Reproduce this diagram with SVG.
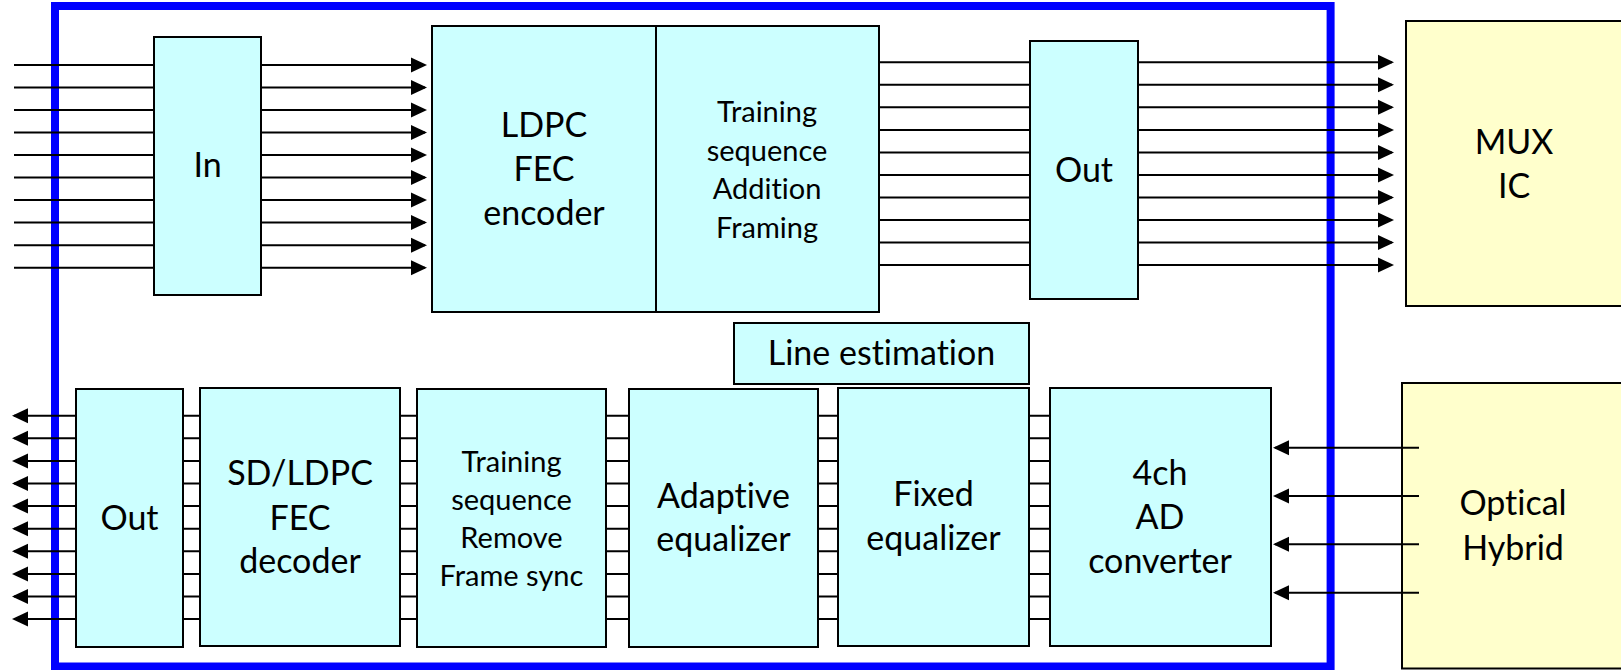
<svg xmlns="http://www.w3.org/2000/svg" width="1621" height="670" viewBox="0 0 1621 670">
<style>
.box{fill:#CCFFFF;stroke:#000;stroke-width:2}
.ext{fill:#FFFFCC;stroke:#000;stroke-width:2}
.frame{fill:none;stroke:#0000FF;stroke-width:8}
.ln{stroke:#000;stroke-width:2;fill:none}
.ar{stroke:#000;stroke-width:2;fill:none;marker-end:url(#ah)}
text{font-family:Lato,"Liberation Sans",sans-serif;fill:#000;text-anchor:middle;font-variant-ligatures:none}
.t1{font-size:34px}
.t2{font-size:29px}
</style>
<defs>
<marker id="ah" markerUnits="userSpaceOnUse" markerWidth="16" markerHeight="16" viewBox="0 0 16 16" refX="14" refY="8" orient="auto"><path d="M0,0.5 L16,8 L0,15.5 z" fill="#000"/></marker>
</defs>
<rect x="0" y="0" width="1621" height="670" fill="#fff"/>
<rect class="frame" x="55" y="6" width="1275.6" height="660.5"/>

<g id="in-box"><rect class="box" x="154" y="37" width="107" height="258"/><text class="t1" x="207.5" y="177">In</text></g>
<g id="ldpc-encoder"><rect class="box" x="432" y="26" width="224" height="286"/><text class="t1" x="544" y="137">LDPC</text><text class="t1" x="544" y="181">FEC</text><text class="t1" x="544" y="225">encoder</text></g>
<g id="training-add"><rect class="box" x="656" y="26" width="223" height="286"/><text class="t2" x="767" y="122">Training</text><text class="t2" x="767" y="160.5">sequence</text><text class="t2" x="767" y="199">Addition</text><text class="t2" x="767" y="238">Framing</text></g>
<g id="out-top"><rect class="box" x="1030" y="41" width="108" height="258"/><text class="t1" x="1084" y="182">Out</text></g>
<g id="mux-ic"><rect class="ext" x="1406" y="21" width="300" height="285"/><text class="t1" x="1514" y="154">MUX</text><text class="t1" x="1514" y="198">IC</text></g>
<g id="line-estimation"><rect class="box" x="734" y="323" width="295" height="61"/><text class="t1" x="881.5" y="365">Line estimation</text></g>
<g id="out-bottom"><rect class="box" x="76" y="389" width="107" height="258"/><text class="t1" x="129.5" y="530">Out</text></g>
<g id="sd-ldpc-decoder"><rect class="box" x="200" y="388" width="200" height="258"/><text class="t1" x="300" y="485">SD/LDPC</text><text class="t1" x="300" y="530">FEC</text><text class="t1" x="300" y="573">decoder</text></g>
<g id="training-remove"><rect class="box" x="417" y="389" width="189" height="258"/><text class="t2" x="511.5" y="472">Training</text><text class="t2" x="511.5" y="509.5">sequence</text><text class="t2" x="511.5" y="548">Remove</text><text class="t2" x="511.5" y="586">Frame sync</text></g>
<g id="adaptive-eq"><rect class="box" x="629" y="389" width="189" height="258"/><text class="t1" x="723.5" y="508">Adaptive</text><text class="t1" x="723.5" y="551">equalizer</text></g>
<g id="fixed-eq"><rect class="box" x="838" y="388" width="191" height="258"/><text class="t1" x="933.5" y="506">Fixed</text><text class="t1" x="933.5" y="550">equalizer</text></g>
<g id="ad-converter"><rect class="box" x="1050" y="388" width="221" height="258"/><text class="t1" x="1160" y="485">4ch</text><text class="t1" x="1160" y="528.5">AD</text><text class="t1" x="1160" y="573">converter</text></g>
<g id="optical-hybrid"><rect class="ext" x="1402" y="383" width="300" height="285.5"/><text class="t1" x="1513" y="515">Optical</text><text class="t1" x="1513" y="560">Hybrid</text></g>

<g id="connectors">
<path class="ln" d="M14,65H154M14,87.5H154M14,110H154M14,132.6H154M14,155.1H154M14,177.6H154M14,200.1H154M14,222.6H154M14,245.2H154M14,267.7H154"/>
<line class="ar" x1="261" y1="65" x2="425" y2="65"/>
<line class="ar" x1="261" y1="87.5" x2="425" y2="87.5"/>
<line class="ar" x1="261" y1="110" x2="425" y2="110"/>
<line class="ar" x1="261" y1="132.6" x2="425" y2="132.6"/>
<line class="ar" x1="261" y1="155.1" x2="425" y2="155.1"/>
<line class="ar" x1="261" y1="177.6" x2="425" y2="177.6"/>
<line class="ar" x1="261" y1="200.1" x2="425" y2="200.1"/>
<line class="ar" x1="261" y1="222.6" x2="425" y2="222.6"/>
<line class="ar" x1="261" y1="245.2" x2="425" y2="245.2"/>
<line class="ar" x1="261" y1="267.7" x2="425" y2="267.7"/>
<path class="ln" d="M879,62.3H1030M879,84.8H1030M879,107.3H1030M879,129.9H1030M879,152.4H1030M879,174.9H1030M879,197.4H1030M879,220H1030M879,242.5H1030M879,265H1030"/>
<line class="ar" x1="1138" y1="62.3" x2="1392" y2="62.3"/>
<line class="ar" x1="1138" y1="84.8" x2="1392" y2="84.8"/>
<line class="ar" x1="1138" y1="107.3" x2="1392" y2="107.3"/>
<line class="ar" x1="1138" y1="129.9" x2="1392" y2="129.9"/>
<line class="ar" x1="1138" y1="152.4" x2="1392" y2="152.4"/>
<line class="ar" x1="1138" y1="174.9" x2="1392" y2="174.9"/>
<line class="ar" x1="1138" y1="197.4" x2="1392" y2="197.4"/>
<line class="ar" x1="1138" y1="220" x2="1392" y2="220"/>
<line class="ar" x1="1138" y1="242.5" x2="1392" y2="242.5"/>
<line class="ar" x1="1138" y1="265" x2="1392" y2="265"/>
<line class="ar" x1="76" y1="415.7" x2="14" y2="415.7"/>
<line class="ar" x1="76" y1="438.3" x2="14" y2="438.3"/>
<line class="ar" x1="76" y1="460.9" x2="14" y2="460.9"/>
<line class="ar" x1="76" y1="483.5" x2="14" y2="483.5"/>
<line class="ar" x1="76" y1="506.1" x2="14" y2="506.1"/>
<line class="ar" x1="76" y1="528.7" x2="14" y2="528.7"/>
<line class="ar" x1="76" y1="551.3" x2="14" y2="551.3"/>
<line class="ar" x1="76" y1="573.9" x2="14" y2="573.9"/>
<line class="ar" x1="76" y1="596.5" x2="14" y2="596.5"/>
<line class="ar" x1="76" y1="619.1" x2="14" y2="619.1"/>
<path class="ln" d="M183,415.7H200M183,438.3H200M183,460.9H200M183,483.5H200M183,506.1H200M183,528.7H200M183,551.3H200M183,573.9H200M183,596.5H200M183,619.1H200"/>
<path class="ln" d="M400,415.7H417M400,438.3H417M400,460.9H417M400,483.5H417M400,506.1H417M400,528.7H417M400,551.3H417M400,573.9H417M400,596.5H417M400,619.1H417"/>
<path class="ln" d="M606,415.7H629M606,438.3H629M606,460.9H629M606,483.5H629M606,506.1H629M606,528.7H629M606,551.3H629M606,573.9H629M606,596.5H629M606,619.1H629"/>
<path class="ln" d="M818,415.7H838M818,438.3H838M818,460.9H838M818,483.5H838M818,506.1H838M818,528.7H838M818,551.3H838M818,573.9H838M818,596.5H838M818,619.1H838"/>
<path class="ln" d="M1029,415.7H1050M1029,438.3H1050M1029,460.9H1050M1029,483.5H1050M1029,506.1H1050M1029,528.7H1050M1029,551.3H1050M1029,573.9H1050M1029,596.5H1050M1029,619.1H1050"/>
<line class="ar" x1="1419" y1="447.7" x2="1275" y2="447.7"/>
<line class="ar" x1="1419" y1="496" x2="1275" y2="496"/>
<line class="ar" x1="1419" y1="544.3" x2="1275" y2="544.3"/>
<line class="ar" x1="1419" y1="592.7" x2="1275" y2="592.7"/>
</g>
</svg>
